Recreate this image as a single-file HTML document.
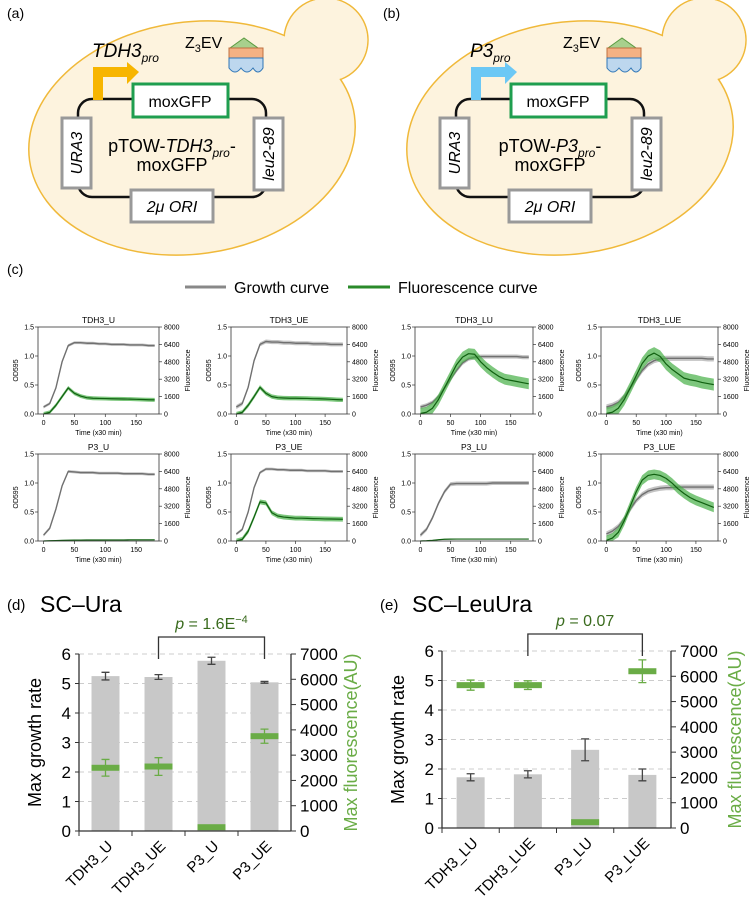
<!DOCTYPE html>
<html><head><meta charset="utf-8"><style>
body{margin:0;background:#fff;}
svg{display:block;font-family:"Liberation Sans",sans-serif;}
</style></head><body>
<svg id="fig" width="753" height="897" viewBox="0 0 753 897">
<defs>
<g id="cellA">
  <circle cx="326" cy="40" r="42" fill="#fdf3de" stroke="#f0b93a" stroke-width="1.5"/>
  <ellipse cx="192" cy="138" rx="164" ry="116" transform="rotate(-8 192 138)" fill="#fdf3de" stroke="#f0b93a" stroke-width="1.5"/>
  <path d="M290,52 A42,42 0 0 1 300,74 L320,84 L330,78 Z" fill="#fdf3de"/>
  <circle cx="326" cy="40" r="41.2" fill="#fdf3de"/>
  <ellipse cx="300" cy="78" rx="30" ry="22" fill="#fdf3de"/>
  <rect x="78" y="99" width="188" height="98" rx="14" fill="none" stroke="#111" stroke-width="2.5"/>
  <rect x="133" y="84" width="95" height="33" fill="#fff" stroke="#1f9e4f" stroke-width="3"/>
  <text x="180" y="107" font-size="16" text-anchor="middle">moxGFP</text>
  <rect x="62" y="118" width="29" height="70" fill="#fff" stroke="#999" stroke-width="3"/>
  <text transform="translate(82,153) rotate(-90)" font-size="16" font-style="italic" text-anchor="middle">URA3</text>
  <rect x="254" y="118" width="29" height="72" fill="#fff" stroke="#999" stroke-width="3"/>
  <text transform="translate(274,154) rotate(-90)" font-size="16" font-style="italic" text-anchor="middle">leu2-89</text>
  <rect x="131" y="190" width="82" height="32" fill="#fff" stroke="#999" stroke-width="3"/>
  <text x="172" y="212" font-size="16" font-style="italic" text-anchor="middle">2μ ORI</text>
  <text x="185" y="48" font-size="16">Z<tspan font-size="11" dy="4">3</tspan><tspan dy="-4">EV</tspan></text>
  <polygon points="230,48 244,38 258,48" fill="#a8d08d" stroke="#5a9a40" stroke-width="1"/>
  <rect x="229" y="48" width="34" height="10" fill="#f4b183" stroke="#c07040" stroke-width="1"/>
  <path d="M229,58 L263,58 L263,68 Q258,76 253,68 Q247,76 241,68 Q235,76 229,68 Z" fill="#bdd7ee" stroke="#2e75b6" stroke-width="1"/>
</g>
</defs>
<text x="7" y="18" font-size="14">(a)</text>
<g>
  <use href="#cellA"/>
  <path d="M98,100 V72 H128" fill="none" stroke="#f7b500" stroke-width="10"/>
  <polygon points="127,62 139,72 127,84" fill="#f7b500"/>
  <text x="92" y="57" font-size="19" font-style="italic">TDH3<tspan font-size="12" dy="5">pro</tspan></text>
  <text x="172" y="152" font-size="18" text-anchor="middle">pTOW-<tspan font-style="italic">TDH3</tspan><tspan font-style="italic" font-size="12" dy="5">pro</tspan><tspan dy="-5">-</tspan></text>
  <text x="172" y="171" font-size="18" text-anchor="middle">moxGFP</text>
</g>
<text x="383" y="18" font-size="14">(b)</text>
<g transform="translate(378,0)">
  <use href="#cellA"/>
  <path d="M98,100 V72 H128" fill="none" stroke="#6cc8f5" stroke-width="10"/>
  <polygon points="127,62 139,72 127,84" fill="#6cc8f5"/>
  <text x="92" y="57" font-size="19" font-style="italic">P3<tspan font-size="12" dy="5">pro</tspan></text>
  <text x="172" y="152" font-size="18" text-anchor="middle">pTOW-<tspan font-style="italic">P3</tspan><tspan font-style="italic" font-size="12" dy="5">pro</tspan><tspan dy="-5">-</tspan></text>
  <text x="172" y="171" font-size="18" text-anchor="middle">moxGFP</text>
</g>
<text x="7" y="274" font-size="14">(c)</text>
<g>
  <line x1="185" y1="287" x2="226" y2="287" stroke="#888" stroke-width="3"/>
  <text x="234" y="293" font-size="16">Growth curve</text>
  <line x1="348" y1="287" x2="390" y2="287" stroke="#2a8a2a" stroke-width="3"/>
  <text x="398" y="293" font-size="16">Fluorescence curve</text>
</g>
<g id="curves"></g>
<text x="7" y="610" font-size="15">(d)</text>
<text x="40" y="612" font-size="23">SC–Ura</text>
<text x="380" y="610" font-size="15">(e)</text>
<text x="412" y="612" font-size="23">SC–LeuUra</text>
<g id="bars"></g>
</svg>
<script>
const NS="http://www.w3.org/2000/svg";
// ---- growth/fluorescence curve data ----
const curveTimes=[0,10,20,30,40,50,60,70,80,90,100,110,120,130,140,150,160,170,180];
const curveTitles=["TDH3_U","TDH3_UE","TDH3_LU","TDH3_LUE","P3_U","P3_UE","P3_LU","P3_LUE"];
const growthTDH3_U=[0.12,0.18,0.45,0.9,1.18,1.23,1.23,1.22,1.22,1.21,1.21,1.2,1.2,1.2,1.19,1.19,1.19,1.18,1.18];
const growthTDH3_UE=[0.12,0.18,0.46,0.92,1.2,1.25,1.24,1.24,1.23,1.23,1.22,1.22,1.22,1.21,1.21,1.21,1.2,1.2,1.2];
const growthTDH3_LU=[0.12,0.15,0.2,0.3,0.45,0.6,0.75,0.88,0.95,0.98,0.99,0.99,0.99,0.99,0.99,0.99,0.99,0.98,0.98];
const growthTDH3_LUE=[0.12,0.15,0.2,0.3,0.45,0.6,0.75,0.86,0.92,0.95,0.96,0.96,0.96,0.96,0.96,0.96,0.96,0.95,0.95];
const growthP3_U=[0.1,0.22,0.55,0.95,1.2,1.19,1.18,1.18,1.18,1.17,1.17,1.17,1.17,1.16,1.16,1.16,1.16,1.15,1.15];
const growthP3_UE=[0.12,0.2,0.5,0.92,1.18,1.24,1.24,1.23,1.23,1.22,1.22,1.22,1.21,1.21,1.21,1.21,1.2,1.2,1.2];
const growthP3_LU=[0.1,0.2,0.4,0.65,0.85,0.98,0.99,0.99,0.99,0.99,0.99,0.99,1.0,1.0,1.0,1.0,1.0,1.0,1.0];
const growthP3_LUE=[0.12,0.17,0.25,0.38,0.55,0.7,0.8,0.86,0.89,0.91,0.92,0.92,0.93,0.93,0.93,0.93,0.93,0.93,0.93];
const fluorTDH3_U=[0,150,800,1600,2400,1900,1650,1500,1450,1430,1420,1400,1390,1380,1370,1350,1330,1310,1300];
const fluorTDH3_UE=[0,150,800,1600,2450,1900,1600,1500,1470,1450,1450,1440,1430,1410,1400,1380,1350,1320,1300];
const fluorTDH3_LU=[53,160,533,1333,2400,3467,4533,5227,5547,5493,4800,4267,3840,3467,3200,3093,2987,2880,2773];
const fluorTDH3_LUE=[53,160,533,1333,2400,3520,4640,5330,5600,5300,4600,4100,3700,3300,3150,3050,2900,2800,2700];
const fluorP3_U=[0,20,40,60,70,80,80,90,90,90,100,100,100,100,110,110,110,110,110];
const fluorP3_UE=[0,150,900,2200,3600,3500,2600,2300,2200,2150,2100,2100,2080,2060,2050,2030,2020,2010,2000];
const fluorP3_LU=[0,20,60,120,160,170,180,180,180,180,180,180,180,180,180,180,180,180,180];
const fluorP3_LUE=[53,270,800,1870,3200,4530,5600,6030,6130,6030,5760,5330,4800,4370,4000,3730,3520,3300,3090];
const growthSets=[growthTDH3_U,growthTDH3_UE,growthTDH3_LU,growthTDH3_LUE,growthP3_U,growthP3_UE,growthP3_LU,growthP3_LUE];
const fluorSets=[fluorTDH3_U,fluorTDH3_UE,fluorTDH3_LU,fluorTDH3_LUE,fluorP3_U,fluorP3_UE,fluorP3_LU,fluorP3_LUE];
const fluorSpread=[180,200,500,550,30,220,30,450];
const growthSpread=[0.025,0.035,0.035,0.045,0.025,0.025,0.035,0.045];
const odTicks=[0,0.5,1.0,1.5];
const flTicks=[0,1600,3200,4800,6400,8000];
const timeTicks=[0,50,100,150];

function el(tag,attrs,parent){const e=document.createElementNS(NS,tag);for(const k in attrs)e.setAttribute(k,attrs[k]);parent.appendChild(e);return e;}
function txt(parent,x,y,s,size,anchor,extra){const t=el('text',Object.assign({x:x,y:y,'font-size':size,'text-anchor':anchor||'start'},extra||{}),parent);t.textContent=s;return t;}

const colX=[38,231,415,601], colW=[121,116,118,117], rowY=[327,454], pH=87;
const curves=document.getElementById('curves');
curveTitles.forEach((title,i)=>{
  const L=colX[i%4], W=colW[i%4], T=rowY[Math.floor(i/4)], B=T+pH;
  const g=el('g',{},curves);
  
  
  const xs=t=>L+(t+9)/196*W;
  const yo=v=>B-v/1.5*pH;
  const yf=v=>B-v/8000*pH;
  const gs=growthSets[i], fs=fluorSets[i];
  function band(arr,sp,yfn,color){
    let d='';curveTimes.forEach((t,k)=>{d+=(k?'L':'M')+xs(t)+','+yfn(arr[k]+sp);});
    for(let k=curveTimes.length-1;k>=0;k--)d+='L'+xs(curveTimes[k])+','+yfn(Math.max(0,arr[k]-sp));
    el('path',{d:d+'Z',fill:color},g);
  }
  function line(arr,yfn,color,w){
    let d='';curveTimes.forEach((t,k)=>{d+=(k?'L':'M')+xs(t)+','+yfn(arr[k]);});
    el('path',{d:d,fill:'none',stroke:color,'stroke-width':w,'stroke-linejoin':'round'},g);
  }
  band(gs,growthSpread[i],yo,'#c4c4c4');
  line(gs,yo,'#707070',1.4);
  band(fs,fluorSpread[i],yf,'rgba(70,175,70,0.7)');
  line(fs,yf,'#106010',1.2);
  el('rect',{x:L,y:T,width:W,height:pH,fill:'none',stroke:'#333','stroke-width':0.8},g);
  txt(g,L+W/2,T-4,title,8.5,'middle');
  odTicks.forEach(v=>{const y=yo(v);el('line',{x1:L-3,y1:y,x2:L,y2:y,stroke:'#333','stroke-width':0.7},g);txt(g,L-4,y+2.5,v.toFixed(1),7,'end');});
  flTicks.forEach(v=>{const y=yf(v);el('line',{x1:L+W,y1:y,x2:L+W+3,y2:y,stroke:'#333','stroke-width':0.7},g);txt(g,L+W+5,y+2.5,String(v),7,'start');});
  timeTicks.forEach(v=>{const x=xs(v);el('line',{x1:x,y1:B,x2:x,y2:B+3,stroke:'#333','stroke-width':0.7},g);txt(g,x,B+11,String(v),7,'middle');});
  txt(g,L+W/2,B+21,'Time (x30 min)',7,'middle');
  txt(g,0,0,'OD595',7,'middle',{transform:`translate(${L-20},${T+pH/2}) rotate(-90)`});
  txt(g,0,0,'Fluorescence',7,'middle',{transform:`translate(${L+W+31},${T+pH/2}) rotate(-90)`});
});

// ---- bar chart data ----
const barCatsD=["TDH3_U","TDH3_UE","P3_U","P3_UE"];
const growthD=[5.25,5.22,5.77,5.04];
const growthErrD=[0.13,0.08,0.12,0.03];
const fluorD=[2500,2550,150,3750];
const fluorErrD=[330,350,0,280];
const barCatsE=["TDH3_LU","TDH3_LUE","P3_LU","P3_LUE"];
const growthE=[1.72,1.82,2.65,1.8];
const growthErrE=[0.12,0.12,0.37,0.2];
const fluorE=[5650,5650,230,6200];
const fluorErrE=[200,170,0,450];
const growthTicks=[0,1,2,3,4,5,6];
const fluorTicksBar=[0,1000,2000,3000,4000,5000,6000,7000];

const bars=document.getElementById('bars');
function barChart(name,cats,gv,ge,fv,fe,L,R,Y0,Y6,pLabel,pIdx,rOff){
  const g=el('g',{},bars);
  
  
  const step=(R-L)/4;
  const cx=k=>L+step*(k+0.5);
  const yg=v=>Y0-(v/6)*(Y0-Y6);
  const yf=v=>Y0-(v/7000)*(Y0-Y6);
  growthTicks.forEach(v=>{const y=yg(v);if(v>0)el('line',{x1:L,y1:y,x2:R,y2:y,stroke:'#ccc','stroke-dasharray':'5,4','stroke-width':1},g);
    el('line',{x1:L-4,y1:y,x2:L,y2:y,stroke:'#333'},g);txt(g,L-8,y+6,String(v),17,'end');});
  fluorTicksBar.forEach(v=>{const y=yf(v);el('line',{x1:R,y1:y,x2:R+5,y2:y,stroke:'#333'},g);txt(g,R+9,y+6,String(v),17,'start');});
  cats.forEach((c,k)=>{
    const x=cx(k),w=28;
    const b=el('rect',{x:x-w/2,y:yg(gv[k]),width:w,height:Y0-yg(gv[k]),fill:'#c8c8c8'},g);
    
    
    const y1=yg(gv[k]+ge[k]),y2=yg(gv[k]-ge[k]);
    el('path',{d:`M${x},${y1}V${y2}M${x-4},${y1}H${x+4}M${x-4},${y2}H${x+4}`,stroke:'#444','stroke-width':1.3,fill:'none'},g);
    const fy=yf(fv[k]);
    if(fe[k]>0){const a=yf(fv[k]+fe[k]),bb=yf(fv[k]-fe[k]);
      el('path',{d:`M${x},${a}V${bb}M${x-4},${a}H${x+4}M${x-4},${bb}H${x+4}`,stroke:'#6aac46','stroke-width':1.3,fill:'none'},g);}
    const m=el('rect',{x:x-w/2,y:fy-3,width:w,height:6,fill:'#6aac46'},g);
    
    
    el('line',{x1:L+step*k,y1:Y0,x2:L+step*k,y2:Y0+5,stroke:'#333'},g);
    txt(g,0,0,c,15,'end',{transform:`translate(${x+8},${Y0+16}) rotate(-45)`});
  });
  el('line',{x1:L,y1:Y6,x2:L,y2:Y0,stroke:'#333','stroke-width':1.3},g);
  el('line',{x1:R,y1:Y6,x2:R,y2:Y0,stroke:'#333','stroke-width':1.3},g);
  el('line',{x1:L,y1:Y0,x2:R,y2:Y0,stroke:'#333','stroke-width':1.3},g);
  const bx1=cx(pIdx[0]),bx2=cx(pIdx[1]),by=Y6-17;
  el('path',{d:`M${bx1},${Y6+5}V${by}H${bx2}V${Y6+5}`,fill:'none',stroke:'#333','stroke-width':1.3},g);
  const pt=el('text',{x:(bx1+bx2)/2,y:by-8,'font-size':16,'text-anchor':'middle',fill:'#3a6b1e'},g);
  pt.innerHTML=pLabel;
  txt(g,0,0,'Max growth rate',18,'middle',{transform:`translate(${L-38},${(Y0+Y6)/2}) rotate(-90)`});
  txt(g,0,0,'Max fluorescence(AU)',18,'middle',{transform:`translate(${R+rOff},${(Y0+Y6)/2}) rotate(-90)`,fill:'#6aac46'});
}
barChart('bar-chart-sc-ura',barCatsD,growthD,growthErrD,fluorD,fluorErrD,79,291,831,654,'<tspan font-style="italic">p</tspan> = 1.6E<tspan font-size="11" dy="-6">−4</tspan>',[1,3],66);
barChart('bar-chart-sc-leuura',barCatsE,growthE,growthErrE,fluorE,fluorErrE,442,671,828,651,'<tspan font-style="italic">p</tspan> = 0.07',[1,3],70);
</script>
</body></html>
